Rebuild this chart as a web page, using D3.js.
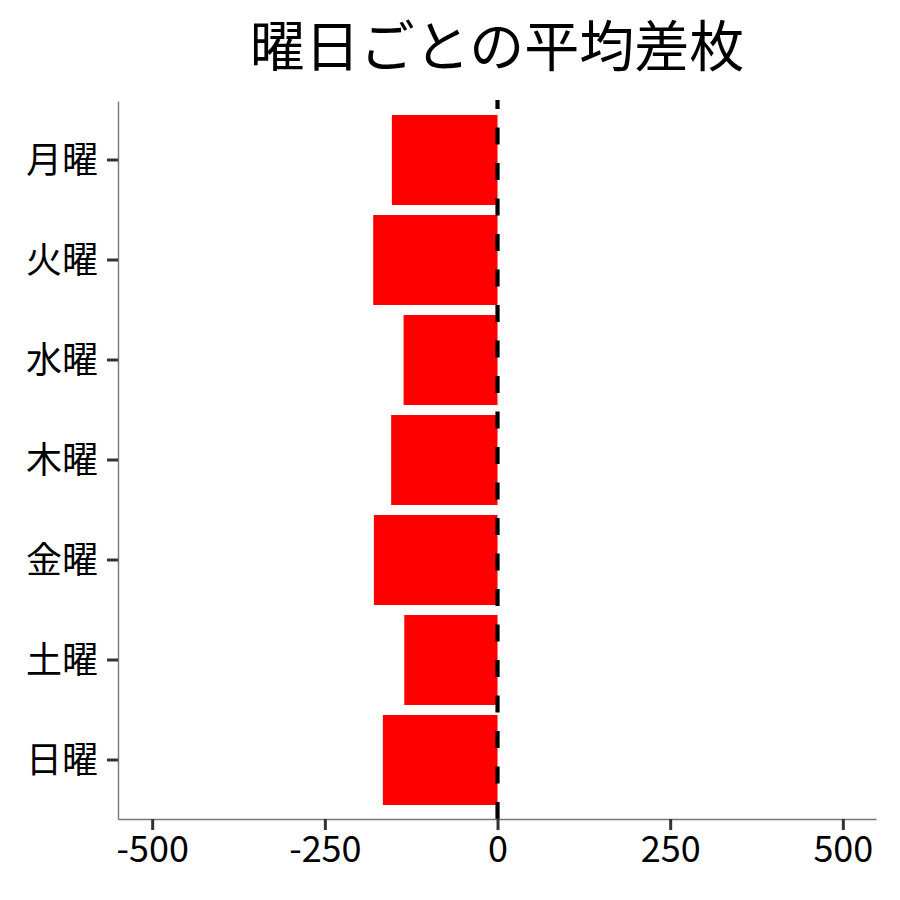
<!DOCTYPE html>
<html>
<head>
<meta charset="utf-8">
<script src="https://cdn.jsdelivr.net/npm/d3@7"></script>
<style>
  body { margin: 0; background: #fff; }
  text { font-family: "Noto Sans CJK JP", "Noto Sans", sans-serif; }
</style>
</head>
<body>
<div id="wrapper"></div>
<script>
// data
const days = ["月曜", "火曜", "水曜", "木曜", "金曜", "土曜", "日曜"]
const avgDiff = [-153, -180, -136, -154, -179, -135, -166]
const xTicks = [-500, -250, 0, 250, 500]
const title = "曜日ごとの平均差枚"

function drawChart() {
  let dimensions = {
    width: 900,
    height: 900,
    margin: { top: 101, right: 24, bottom: 81, left: 118 },
  }
  dimensions.boundedWidth = dimensions.width - dimensions.margin.left - dimensions.margin.right
  dimensions.boundedHeight = dimensions.height - dimensions.margin.top - dimensions.margin.bottom

  const wrapper = d3.select("#wrapper")
    .append("svg")
      .attr("width", dimensions.width)
      .attr("height", dimensions.height)

  const bounds = wrapper.append("g")
      .attr("transform", `translate(${dimensions.margin.left},${dimensions.margin.top})`)

  // scales
  const xScale = d3.scaleLinear()
    .domain([-549.5, 548])
    .range([0, dimensions.boundedWidth])

  const yScale = d3.scaleBand()
    .domain(days)
    .range([0, dimensions.boundedHeight])
    .paddingInner(0.1)
    .paddingOuter(0.14)

  // bars
  bounds.selectAll("rect.bar")
    .data(days)
    .join("rect")
      .attr("class", "bar")
      .attr("x", (d, i) => xScale(Math.min(0, avgDiff[i])))
      .attr("y", d => yScale(d))
      .attr("width", (d, i) => Math.abs(xScale(avgDiff[i]) - xScale(0)))
      .attr("height", yScale.bandwidth())
      .attr("fill", "#ff0000")

  // zero line (dashed, drawn from bottom up)
  bounds.append("line")
      .attr("x1", xScale(0))
      .attr("x2", xScale(0))
      .attr("y1", dimensions.boundedHeight)
      .attr("y2", -1)
      .attr("stroke", "#000")
      .attr("stroke-width", 4.2)
      .attr("stroke-dasharray", "17,18.5")

  // axes
  const xAxis = d3.axisBottom(xScale)
    .tickValues(xTicks)
    .tickSizeInner(11)
    .tickSizeOuter(0)
    .tickPadding(6)
    .tickFormat(d => String(d))

  const xAxisGroup = bounds.append("g")
      .attr("transform", `translate(0,${dimensions.boundedHeight})`)
      .call(xAxis)
  xAxisGroup.select(".domain").attr("stroke", "#777").attr("stroke-width", 1.4)
  xAxisGroup.selectAll(".tick line").attr("stroke", "#333").attr("stroke-width", 3)
  xAxisGroup.selectAll(".tick text")
      .attr("fill", "#000")
      .style("font-size", "36px")

  const yAxis = d3.axisLeft(yScale)
    .tickSizeInner(11)
    .tickSizeOuter(0)
    .tickPadding(9)

  const yAxisGroup = bounds.append("g").call(yAxis)
  yAxisGroup.select(".domain").attr("stroke", "#777").attr("stroke-width", 1.4)
  yAxisGroup.selectAll(".tick line").attr("stroke", "#333").attr("stroke-width", 3)
  yAxisGroup.selectAll(".tick text")
      .attr("fill", "#000")
      .attr("dy", "0.36em")
      .style("font-size", "36px")

  // title
  wrapper.append("text")
      .attr("x", dimensions.margin.left + dimensions.boundedWidth / 2)
      .attr("y", 66)
      .attr("text-anchor", "middle")
      .style("font-size", "55px")
      .attr("fill", "#000")
      .text(title)
}

drawChart()
</script>
</body>
</html>
